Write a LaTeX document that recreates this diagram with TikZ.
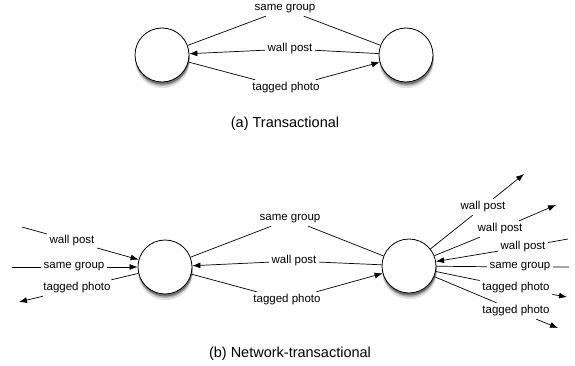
\documentclass[tikz,border=0pt]{standalone}
\usepackage{fontspec}
\setmainfont{Liberation Sans}
\usetikzlibrary{arrows.meta}
\usetikzlibrary{shadows}

\tikzset{
  vertex/.style={circle,draw,fill=white,line width=0.8pt,minimum size=54pt,inner sep=0pt,
    drop shadow={shadow xshift=0.5pt,shadow yshift=-5.5pt,shadow scale=1.02,fill=black!12,opacity=1},
    drop shadow={shadow xshift=0.5pt,shadow yshift=-4pt,fill=black!30,opacity=1},
    drop shadow={shadow xshift=0.5pt,shadow yshift=-2.5pt,fill=black!55,opacity=1}},
  lbl/.style={inner sep=2.5pt,font=\fontsize{11.5}{13}\selectfont},
  captiontext/.style={font=\fontsize{14.5}{16}\selectfont}
}

\begin{document}
\begin{tikzpicture}[x=1pt,y=-1pt,>={Latex[length=8pt,width=6pt]},line width=0.7pt]
\useasboundingbox (0,0) rectangle (575,366);

% (a) transactional
\node[vertex](a1) at (162,55) {};
\node[vertex](a2) at (406,55) {};
\node[lbl](asg) at (285,9) {same group};
\node[lbl](awp) at (290,49) {wall post};
\node[lbl](atp) at (286,88) {tagged photo};
\node[captiontext](capa) at (285,124) {(a) Transactional};

\draw (a1) -- (asg) -- (a2);
\draw[->] (a2) -- (awp) -- (a1);
\draw[->] (a1) -- (atp) -- (a2);

% (b) network-transactional
\node[vertex](b1) at (165,267) {};
\node[vertex](b2) at (409,266) {};
\node[lbl](bsg) at (290,219) {same group};
\node[lbl](bwp) at (294,261) {wall post};
\node[lbl](btp) at (287,300) {tagged photo};
\node[captiontext](capb) at (290,354) {(b) Network-transactional};

\draw (b1) -- (bsg) -- (b2);
\draw[->] (b2) -- (bwp) -- (b1);
\draw[->] (b1) -- (btp) -- (b2);

% left neighbours
\coordinate (lw) at (22,227);
\coordinate (ls) at (12,267);
\coordinate (lt) at (19,302);
\node[lbl](blw) at (72,241) {wall post};
\node[lbl](bls) at (74,267) {same group};
\node[lbl](blt) at (77,288) {tagged photo};

\draw[->] (lw) -- (blw) -- (b1);
\draw[->] (ls) -- (bls) -- (b1);
\draw[->] (b1) -- (blt) -- (lt);

% right neighbours
\coordinate (rw1) at (524,174);
\coordinate (rw2) at (556,205);
\coordinate (rw3) at (568,239);
\coordinate (rs) at (569,267);
\coordinate (rt1) at (567,297);
\coordinate (rt2) at (558,328);
\node[lbl](brw1) at (483,207) {wall post};
\node[lbl](brw2) at (500,229) {wall post};
\node[lbl](brw3) at (523,247) {wall post};
\node[lbl](brs) at (520,267) {same group};
\node[lbl](brt1) at (516,288) {tagged photo};
\node[lbl](brt2) at (516,311) {tagged photo};

\draw[->] (b2) -- (brw1) -- (rw1);
\draw[->] (b2) -- (brw2) -- (rw2);
\draw[->] (rw3) -- (brw3) -- (b2);
\draw (b2) -- (brs) -- (rs);
\draw[->] (b2) -- (brt1) -- (rt1);
\draw[->] (b2) -- (brt2) -- (rt2);
\end{tikzpicture}
\end{document}
